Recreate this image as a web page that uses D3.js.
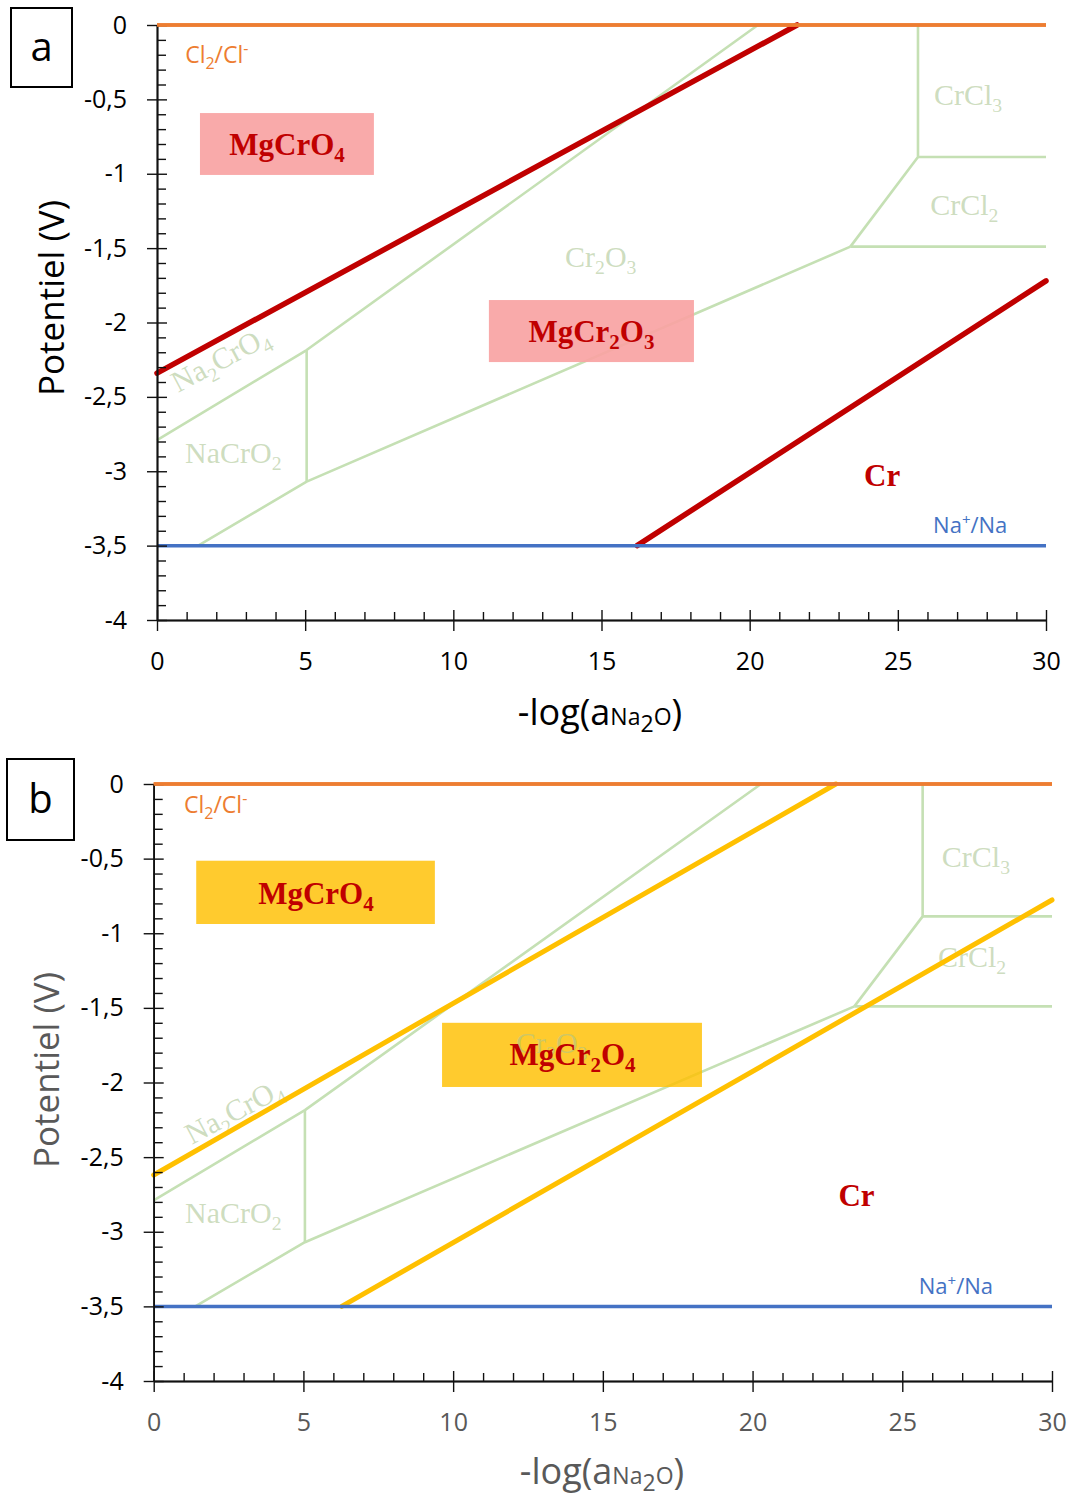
<!DOCTYPE html>
<html><head><meta charset="utf-8">
<script src="https://cdn.jsdelivr.net/npm/d3@7"></script>
<style>body{margin:0;background:#fff}</style>
</head><body>
<svg id="c" width="1072" height="1499" xmlns="http://www.w3.org/2000/svg"></svg>
<script>
// ---------- data ----------
const xTickValues = [0, 5, 10, 15, 20, 25, 30];
const xTickLabels = ["0", "5", "10", "15", "20", "25", "30"];
const xMinorValues = [1,2,3,4,6,7,8,9,11,12,13,14,16,17,18,19,21,22,23,24,26,27,28,29];
const yTickValues = [0, -0.5, -1, -1.5, -2, -2.5, -3, -3.5, -4];
const yTickLabels = ["0", "-0,5", "-1", "-1,5", "-2", "-2,5", "-3", "-3,5", "-4"];
const yMinorValues = [-0.1,-0.2,-0.3,-0.4,-0.6,-0.7,-0.8,-0.9,-1.1,-1.2,-1.3,-1.4,-1.6,-1.7,-1.8,-1.9,
  -2.1,-2.2,-2.3,-2.4,-2.6,-2.7,-2.8,-2.9,-3.1,-3.2,-3.3,-3.4,-3.6,-3.7,-3.8,-3.9];

// Cr-Na-O-Cl stability-domain boundaries (light green)
const boundaryNa2CrO4 = [[0, -2.79], [5.05, -2.185], [20.28, 0]];
const boundaryNaCrO2 = [[1.39, -3.5], [5.05, -3.07], [23.4, -1.49]];
const boundaryNaVertical = [[5.05, -3.07], [5.05, -2.185]];
const boundaryCrChlorides = [[23.4, -1.49], [25.68, -0.887], [25.68, 0]];
const boundaryCrCl2 = [[23.4, -1.49], [30, -1.49]];
const boundaryCrCl3 = [[25.68, -0.887], [30, -0.887]];

// solvent limits
const cl2ClLine = [[0, 0], [30, 0]];
const naNaLine = [[0, -3.5], [30, -3.5]];

// Mg-Cr-O boundaries
const mgA_upper = [[0, -2.34], [21.6, 0]];
const mgA_lower = [[16.2, -3.5], [30, -1.72]];
const mgB_upper = [[0, -2.62], [22.78, 0]];
const mgB_lower = [[6.28, -3.5], [30, -0.777]];

const panels = [
  {
    id: "a", xr: [157, 1046], yr: [620, 25],
    tag: {x: 11, y: 8, w: 61, h: 79},
    mgLines: [mgA_upper, mgA_lower], mgColor: "#C00000", mgWidth: 5.5,
    boxColor: "#F8A3A3", boxOpacity: 0.92,
    xLabelColor: "#000", yLabelColor: "#000", titleColor: "#000",
    yTitle: {x: 52, y: 298}, xTitle: {x: 600, y: 725},
    clLabel: [0.95, -0.257], naLabel: [26.19, -3.417],
    box1: {x0: 1.45, x1: 7.32, y0: -0.592, y1: -1.008, tx: 4.39, ty: -0.874, main: "MgCrO", sub: "4", sub0: null},
    box2: {x0: 11.2, x1: 18.12, y0: -1.849, y1: -2.266, tx: 14.66, ty: -2.129, main: "MgCr", sub0: "2", mid: "O", sub: "3"},
    crLabel: [24.47, -3.097],
    green: {crcl3: [26.22, -0.54], crcl2: [26.09, -1.277], cr2o3: [13.77, -1.627], nacro2: [0.945, -2.945], na2cro4: [0.71, -2.474]}
  },
  {
    id: "b", xr: [153.7, 1052], yr: [1381, 784],
    tag: {x: 7, y: 759, w: 67, h: 81},
    mgLines: [mgB_upper, mgB_lower], mgColor: "#FFC000", mgWidth: 5,
    boxColor: "#FFC000", boxOpacity: 0.82,
    xLabelColor: "#595959", yLabelColor: "#000", titleColor: "#595959",
    yTitle: {x: 47, y: 1070}, xTitle: {x: 602, y: 1484},
    clLabel: [1.01, -0.195], naLabel: [25.55, -3.416],
    box1: {x0: 1.42, x1: 9.39, y0: -0.514, y1: -0.938, tx: 5.42, ty: -0.806, main: "MgCrO", sub: "4", sub0: null},
    box2: {x0: 9.63, x1: 18.31, y0: -1.60, y1: -2.03, tx: 13.99, ty: -1.882, main: "MgCr", sub0: "2", mid: "O", sub: "4"},
    crLabel: [23.47, -2.83],
    green: {crcl3: [26.32, -0.554], crcl2: [26.19, -1.223], cr2o3: [12.1, -1.80], nacro2: [1.045, -2.94], na2cro4: [1.27, -2.418]}
  }
];

const svg = d3.select("#c");
const SANS = "'Open Sans', 'DejaVu Sans', sans-serif";
const SERIF = "'Liberation Serif', 'DejaVu Serif', serif";

panels.forEach(p => {
  const x = d3.scaleLinear().domain([0, 30]).range(p.xr);
  const y = d3.scaleLinear().domain([-4, 0]).range(p.yr);
  const line = d3.line().x(d => x(d[0])).y(d => y(d[1]));
  const g = svg.append("g");

  // green boundaries
  [boundaryNa2CrO4, boundaryNaCrO2, boundaryNaVertical, boundaryCrChlorides, boundaryCrCl2, boundaryCrCl3]
    .forEach(b => g.append("path").attr("d", line(b)).attr("fill", "none")
      .attr("stroke", "#C5E0B4").attr("stroke-width", 2.6).attr("stroke-linejoin", "round"));

  // boxes
  [p.box1, p.box2].forEach(bx => {
    g.append("rect").attr("x", x(bx.x0)).attr("y", y(bx.y0))
      .attr("width", x(bx.x1) - x(bx.x0)).attr("height", y(bx.y1) - y(bx.y0))
      .attr("fill", p.boxColor).attr("fill-opacity", p.boxOpacity);
  });

  // green labels
  const gl = (pos, parts, rot, size) => {
    const fs = size || 30;
    const t = g.append("text").attr("font-family", SERIF).attr("font-size", fs)
      .attr("fill", "#A9C48F").attr("fill-opacity", 0.58);
    if (rot) t.attr("transform", `translate(${x(pos[0])},${y(pos[1])}) rotate(${rot})`);
    else t.attr("x", x(pos[0])).attr("y", y(pos[1]));
    parts.forEach(([txt, kind]) => {
      const s = t.append("tspan").text(txt);
      if (kind === "sub") s.attr("font-size", fs * 0.66).attr("dy", 7);
      if (kind === "back") s.attr("dy", -7);
    });
    return t;
  };
  gl(p.green.crcl3, [["CrCl"], ["3", "sub"]]);
  gl(p.green.crcl2, [["CrCl"], ["2", "sub"]]);
  gl(p.green.cr2o3, [["Cr"], ["2", "sub"], ["O", "back"], ["3", "sub"]]);
  gl(p.green.nacro2, [["NaCrO"], ["2", "sub"]]);
  gl(p.green.na2cro4, [["Na"], ["2", "sub"], ["CrO", "back"], ["4", "sub"]], -28, 30);

  // Mg lines
  p.mgLines.forEach(l => g.append("path").attr("d", line(l)).attr("fill", "none")
    .attr("stroke", p.mgColor).attr("stroke-width", p.mgWidth).attr("stroke-linecap", "round"));

  // solvent limits
  g.append("path").attr("d", line(cl2ClLine)).attr("stroke", "#ED7D31").attr("stroke-width", 3.5).attr("fill", "none");
  g.append("path").attr("d", line(naNaLine)).attr("stroke", "#4472C4").attr("stroke-width", 3.5).attr("fill", "none");

  // axes
  const styleAxis = sel => {
    sel.attr("font-family", SANS).attr("font-size", 25);
    sel.selectAll(".domain").attr("stroke", "#111").attr("stroke-width", 1.5);
    sel.selectAll(".tick line").attr("stroke", "#111").attr("stroke-width", 1.4);
  };
  const xb = g.append("g").attr("transform", `translate(0,${y(-4)})`)
    .call(d3.axisBottom(x).tickValues(xTickValues).tickFormat((d, i) => xTickLabels[i])
      .tickSizeInner(11).tickSizeOuter(0).tickPadding(21));
  styleAxis(xb); xb.selectAll("text").attr("fill", p.xLabelColor);
  const xi = g.append("g").attr("transform", `translate(0,${y(-4)})`)
    .call(d3.axisTop(x).tickValues(xTickValues).tickFormat("").tickSizeInner(10).tickSizeOuter(0));
  styleAxis(xi);
  const xm = g.append("g").attr("transform", `translate(0,${y(-4)})`)
    .call(d3.axisTop(x).tickValues(xMinorValues).tickFormat("").tickSizeInner(8).tickSizeOuter(0));
  styleAxis(xm);

  const yl = g.append("g").attr("transform", `translate(${x(0)},0)`)
    .call(d3.axisLeft(y).tickValues(yTickValues).tickFormat((d, i) => yTickLabels[i])
      .tickSizeInner(10).tickSizeOuter(0).tickPadding(20));
  styleAxis(yl); yl.selectAll("text").attr("fill", p.yLabelColor);
  const yi = g.append("g").attr("transform", `translate(${x(0)},0)`)
    .call(d3.axisRight(y).tickValues(yTickValues).tickFormat("").tickSizeInner(10).tickSizeOuter(0));
  styleAxis(yi);
  const ym = g.append("g").attr("transform", `translate(${x(0)},0)`)
    .call(d3.axisRight(y).tickValues(yMinorValues).tickFormat("").tickSizeInner(9).tickSizeOuter(0));
  styleAxis(ym);

  // redraw orange line on top of axis end
  g.append("path").attr("d", line(cl2ClLine)).attr("stroke", "#ED7D31").attr("stroke-width", 3.5).attr("fill", "none");

  // Cl2/Cl- label
  const cl = g.append("text").attr("x", x(p.clLabel[0])).attr("y", y(p.clLabel[1]))
    .attr("font-family", SANS).attr("font-size", 23).attr("fill", "#ED7D31");
  cl.append("tspan").text("Cl");
  cl.append("tspan").text("2").attr("font-size", 16).attr("dy", 6);
  cl.append("tspan").text("/Cl").attr("dy", -6);
  cl.append("tspan").text("-").attr("font-size", 16).attr("dy", -9);

  // Na+/Na label
  const na = g.append("text").attr("x", x(p.naLabel[0])).attr("y", y(p.naLabel[1]))
    .attr("font-family", SANS).attr("font-size", 22).attr("fill", "#4472C4");
  na.append("tspan").text("Na");
  na.append("tspan").text("+").attr("font-size", 15).attr("dy", -8);
  na.append("tspan").text("/Na").attr("dy", 8);

  // Bold red labels
  const b1 = g.append("text").attr("x", x(p.box1.tx)).attr("y", y(p.box1.ty)).attr("text-anchor", "middle")
    .attr("font-family", SERIF).attr("font-weight", "bold").attr("font-size", 31).attr("fill", "#C00000");
  b1.append("tspan").text(p.box1.main);
  b1.append("tspan").text(p.box1.sub).attr("font-size", 21).attr("dy", 7);

  const b2 = g.append("text").attr("x", x(p.box2.tx)).attr("y", y(p.box2.ty)).attr("text-anchor", "middle")
    .attr("font-family", SERIF).attr("font-weight", "bold").attr("font-size", 31).attr("fill", "#C00000");
  b2.append("tspan").text(p.box2.main);
  b2.append("tspan").text(p.box2.sub0).attr("font-size", 21).attr("dy", 7);
  b2.append("tspan").text(p.box2.mid).attr("dy", -7);
  b2.append("tspan").text(p.box2.sub).attr("font-size", 21).attr("dy", 7);

  g.append("text").attr("x", x(p.crLabel[0])).attr("y", y(p.crLabel[1])).attr("text-anchor", "middle")
    .attr("font-family", SERIF).attr("font-weight", "bold").attr("font-size", 31).attr("fill", "#C00000").text("Cr");

  // axis titles
  g.append("text").attr("transform", `translate(${p.yTitle.x + 12},${p.yTitle.y}) rotate(-90)`)
    .attr("text-anchor", "middle").attr("font-family", SANS).attr("font-size", 35).attr("fill", p.titleColor)
    .text("Potentiel (V)");
  const xt = g.append("text").attr("x", p.xTitle.x).attr("y", p.xTitle.y).attr("text-anchor", "middle")
    .attr("font-family", SANS).attr("font-size", 36).attr("fill", p.titleColor);
  xt.append("tspan").text("-log(a");
  xt.append("tspan").text("Na").attr("font-size", 23);
  xt.append("tspan").text("2").attr("font-size", 23).attr("dy", 7);
  xt.append("tspan").text("O").attr("font-size", 23).attr("dy", -7);
  xt.append("tspan").text(")");

  // panel tag
  g.append("rect").attr("x", p.tag.x).attr("y", p.tag.y).attr("width", p.tag.w).attr("height", p.tag.h)
    .attr("fill", "#fff").attr("stroke", "#000").attr("stroke-width", 2);
  g.append("text").attr("x", p.tag.x + p.tag.w / 2).attr("y", p.tag.y + p.tag.h / 2 + 13)
    .attr("text-anchor", "middle").attr("font-family", SANS).attr("font-size", 40).attr("fill", "#000").text(p.id);
});
</script>
</body></html>
